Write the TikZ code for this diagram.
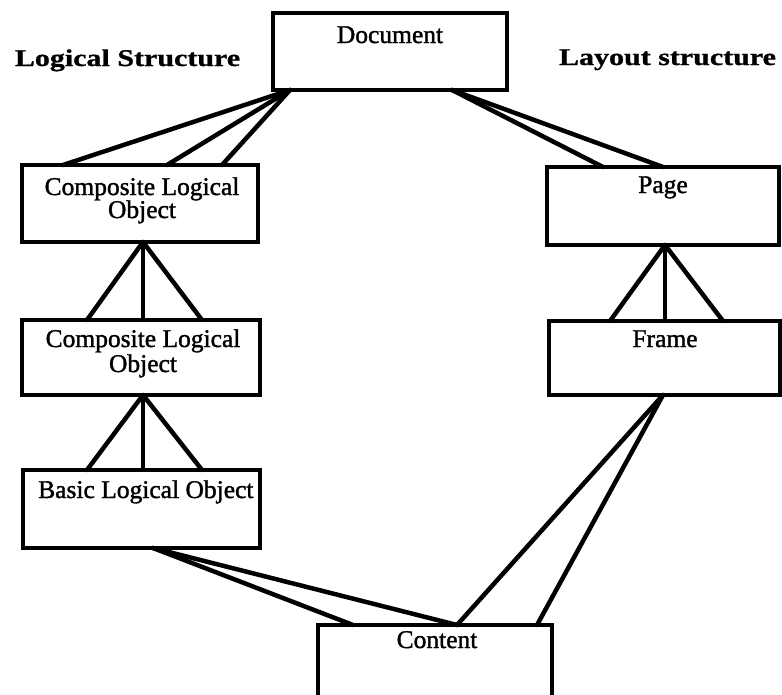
\documentclass[tikz,border=0pt]{standalone}
\usepackage{graphicx}
\usepackage{fontspec}
\setmainfont{Liberation Serif}
% heavier cuts of the serif for labels and headings
\newfontfamily\labelfont[FakeBold=1.4]{Liberation Serif}
\newfontfamily\headfont[FakeBold=0.8]{Liberation Serif Bold}
\usetikzlibrary{calc}
\begin{document}
\begin{tikzpicture}[x=1pt,y=-1pt,
  box/.style={draw, line width=4pt, rectangle, anchor=north west,
    inner sep=0pt, outer sep=0pt},
  boxtext/.style={anchor=base, inner sep=0pt,
    font=\labelfont\fontsize{25.5}{28}\selectfont},
  heading/.style={anchor=base, inner sep=0pt,
    font=\headfont\fontsize{24}{28}\selectfont},
  link/.style={line width=4.5pt, line cap=round},
  stem/.style={line width=3.2pt, line cap=round}]
\useasboundingbox (0,0) rectangle (782,694);

% headings
\node[heading] (lhead) at (127.5,66) {\scalebox{1.25}[1]{Logical Structure}};
\node[heading] (rhead) at (667.5,65) {\scalebox{1.25}[1]{Layout structure}};

% boxes
\node[box, minimum width=234pt, minimum height=77pt] (doc) at (273,13) {};
\node[box, minimum width=236pt, minimum height=77pt] (clo1) at (22,165) {};
\node[box, minimum width=238pt, minimum height=75pt] (clo2) at (22,320) {};
\node[box, minimum width=237pt, minimum height=78pt] (basic) at (23,470) {};
\node[box, minimum width=232pt, minimum height=78pt] (page) at (547,167) {};
\node[box, minimum width=231pt, minimum height=74pt] (frame) at (549,321) {};
\node[box, minimum width=234pt, minimum height=100pt] (content) at (318,625) {};

% box labels
\node[boxtext] (tdoc) at (390,43) {Document};
\node[boxtext] (tclo1a) at (142,195) {Composite Logical};
\node[boxtext] (tclo1b) at (142,218) {Object};
\node[boxtext] (tclo2a) at (143,347) {Composite Logical};
\node[boxtext] (tclo2b) at (143,372) {Object};
\node[boxtext, anchor=base west] (tbasic) at (38,498) {Basic Logical Object};
\node[boxtext] (tpage) at (663,193) {Page};
\node[boxtext] (tframe) at (665,347) {Frame};
\node[boxtext] (tcontent) at (437,648) {Content};

% document to logical root
\foreach \dx in {41,145,200}
  \draw[link] ($(doc.south west)+(17,0)$) -- ($(clo1.north west)+(\dx,0)$);
% document to page
\foreach \dx in {56,116}
  \draw[link] ($(doc.south west)+(179,0)$) -- ($(page.north west)+(\dx,0)$);
% composite to composite
\draw[link] ($(clo1.south west)+(121,0)$) -- ($(clo2.north west)+(65,0)$);
\draw[stem] ($(clo1.south west)+(121,0)$) -- ($(clo2.north west)+(121,0)$);
\draw[link] ($(clo1.south west)+(121,0)$) -- ($(clo2.north west)+(180,0)$);
% composite to basic
\draw[link] ($(clo2.south west)+(121,0)$) -- ($(basic.north west)+(64,0)$);
\draw[stem] ($(clo2.south west)+(121,0)$) -- ($(basic.north west)+(120,0)$);
\draw[link] ($(clo2.south west)+(121,0)$) -- ($(basic.north west)+(179,0)$);
% page to frame
\draw[link] ($(page.south west)+(118,0)$) -- ($(frame.north west)+(61,0)$);
\draw[stem] ($(page.south west)+(118,0)$) -- ($(frame.north west)+(116,0)$);
\draw[link] ($(page.south west)+(118,0)$) -- ($(frame.north west)+(174,0)$);
% frame to content
\foreach \dx in {139,219}
  \draw[link] ($(frame.south west)+(114,0)$) -- ($(content.north west)+(\dx,0)$);
% basic object to content
\foreach \dx in {35,139}
  \draw[link] ($(basic.south west)+(130,0)$) -- ($(content.north west)+(\dx,0)$);
\end{tikzpicture}
\end{document}
